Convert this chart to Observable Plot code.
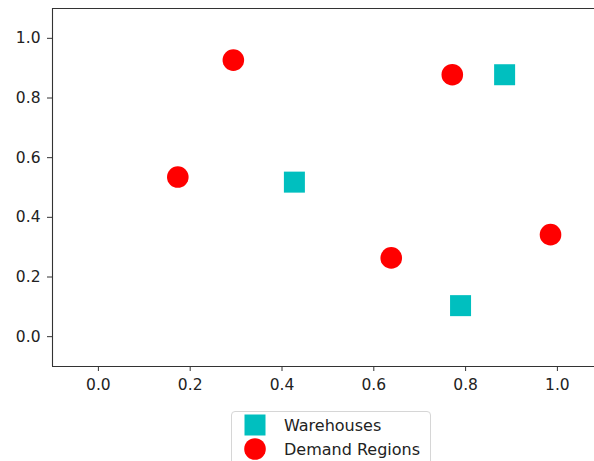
<!DOCTYPE html>
<html>
<head>
<meta charset="utf-8">
<script src="https://cdn.jsdelivr.net/npm/d3@7"></script>
<script src="https://cdn.jsdelivr.net/npm/@observablehq/plot@0.6"></script>
<style>
  html, body { margin: 0; padding: 0; background: #fff; overflow: hidden; }
  body { width: 594px; height: 461px; font-family: "DejaVu Sans", sans-serif; }
  #legend {
    position: absolute; left: 231px; top: 411px; width: 200px; height: 70px;
    border: 1px solid #d6d6d6; border-radius: 4px; box-sizing: border-box; background: #fff;
  }
  .row { position: absolute; left: 0; height: 24px; display: flex; align-items: center; }
  .row span { position: absolute; left: 52px; font-size: 16px; color: #222; white-space: nowrap; }
  .sw { position: absolute; left: 12px; }
  #chart svg text { font-size: 15.5px; }
</style>
</head>
<body>
<div id="chart"></div>
<div id="legend"></div>
<script>
// Data
const warehouseX = [0.427, 0.885, 0.789];
const warehouseY = [0.518, 0.878, 0.104];
const demandX = [0.294, 0.173, 0.771, 0.638, 0.985];
const demandY = [0.927, 0.535, 0.878, 0.264, 0.342];
const ticks = [0.0, 0.2, 0.4, 0.6, 0.8, 1.0];
const seriesNames = ["Warehouses", "Demand Regions"];
const seriesColors = ["#00bfbf", "#ff0000"];

const warehouses = warehouseX.map((x, i) => ({x, y: warehouseY[i]}));
const demand = demandX.map((x, i) => ({x, y: demandY[i]}));

const xMin = -0.1, yMin = -0.1, yMax = 1.1;
const width = 594, height = 406;
const marginLeft = 52, marginTop = 8, marginBottom = 40;
const pxPerUnit = 459;
const xMax = xMin + (width - marginLeft) / pxPerUnit;

const chart = Plot.plot({
  width, height,
  marginLeft, marginTop, marginBottom, marginRight: 0,
  style: {fontFamily: "DejaVu Sans, sans-serif", fontSize: "15.5px", color: "#222", background: "#fff"},
  x: {domain: [xMin, xMax]},
  y: {domain: [yMin, yMax]},
  marks: [
    Plot.axisX({ticks, tickFormat: d => d.toFixed(1), tickSize: 5, tickPadding: 7, label: null, stroke: "#333"}),
    Plot.axisY({ticks, tickFormat: d => d.toFixed(1), tickSize: 5, tickPadding: 7, label: null, stroke: "#333"}),
    Plot.ruleX([xMin], {stroke: "#333", strokeWidth: 1.1}),
    Plot.ruleY([yMin, yMax], {stroke: "#333", strokeWidth: 1.1}),
    Plot.dot(warehouses, {x: "x", y: "y", symbol: "square", r: 11.85, fill: seriesColors[0], stroke: null}),
    Plot.dot(demand, {x: "x", y: "y", symbol: "circle", r: 10.8, fill: seriesColors[1], stroke: null})
  ]
});
document.getElementById("chart").appendChild(chart);

// Legend
const legend = document.getElementById("legend");
const NS = "http://www.w3.org/2000/svg";
seriesNames.forEach((name, i) => {
  const row = document.createElement("div");
  row.className = "row";
  row.style.top = (1 + i * 24) + "px";
  row.style.width = "196px";
  const sw = document.createElementNS(NS, "svg");
  sw.setAttribute("width", 22); sw.setAttribute("height", 22);
  sw.setAttribute("class", "sw");
  sw.style.top = "1px";
  let shape;
  if (i === 0) {
    shape = document.createElementNS(NS, "rect");
    shape.setAttribute("x", 0.5); shape.setAttribute("y", 0.5);
    shape.setAttribute("width", 21); shape.setAttribute("height", 21);
  } else {
    shape = document.createElementNS(NS, "circle");
    shape.setAttribute("cx", 11); shape.setAttribute("cy", 11); shape.setAttribute("r", 10.8);
  }
  shape.setAttribute("fill", seriesColors[i]);
  sw.appendChild(shape);
  row.appendChild(sw);
  const label = document.createElement("span");
  label.textContent = name;
  row.appendChild(label);
  legend.appendChild(row);
});
</script>
</body>
</html>
